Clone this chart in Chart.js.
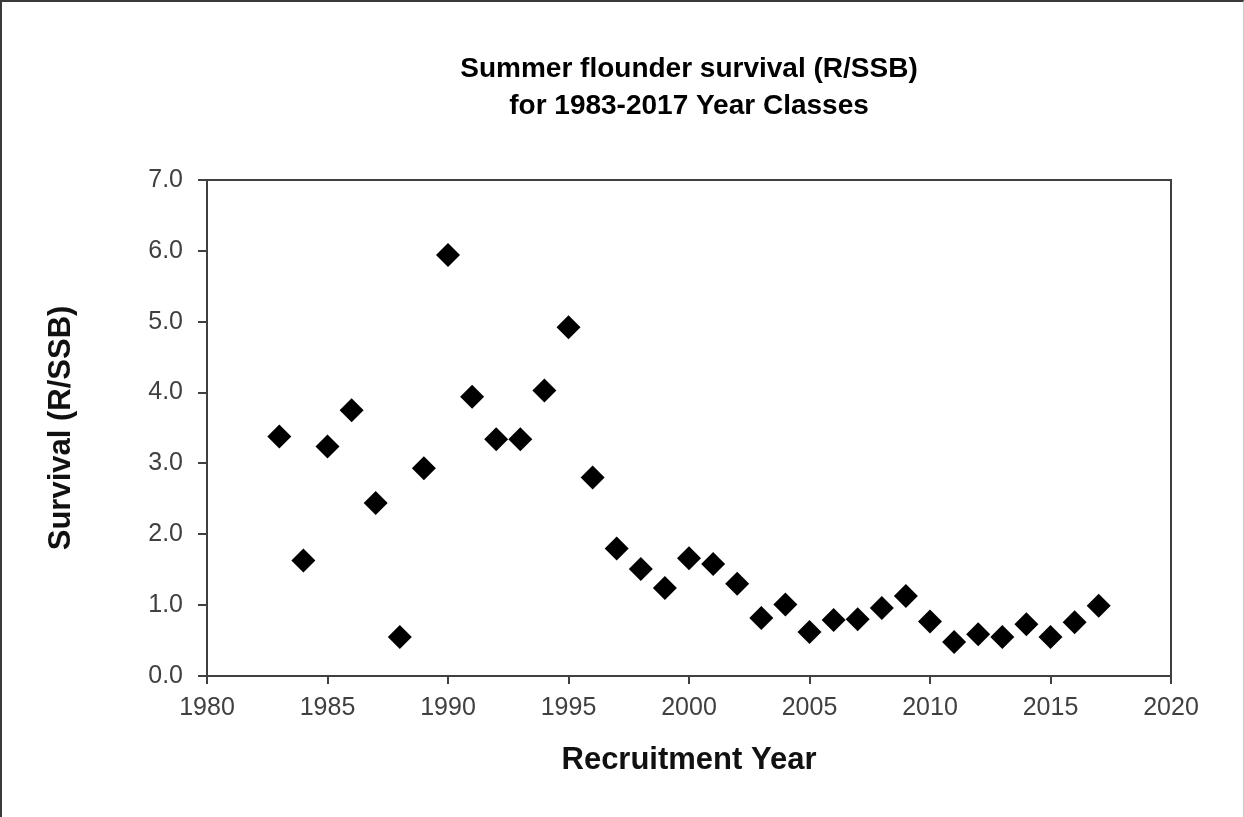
<!DOCTYPE html>
<html>
<head>
<meta charset="utf-8">
<script src="https://cdn.jsdelivr.net/npm/chart.js@4/dist/chart.umd.min.js"></script>
<style>
html,body{margin:0;padding:0;background:#fff;}
#wrap{position:relative;width:1244px;height:817px;}
#frame{position:absolute;left:0;top:0;right:0;bottom:0;border-top:2px solid #3a3a3a;border-left:2px solid #3a3a3a;border-right:1px solid #c8c8c8;pointer-events:none;}
</style>
</head>
<body>
<div id="wrap">
<canvas id="chart" width="1244" height="817"></canvas>
<div id="frame"></div>
</div>
<script>
const years=[1983,1984,1985,1986,1987,1988,1989,1990,1991,1992,1993,1994,1995,1996,1997,1998,1999,2000,2001,2002,2003,2004,2005,2006,2007,2008,2009,2010,2011,2012,2013,2014,2015,2016,2017];
const survival=[3.38,1.63,3.24,3.75,2.44,0.55,2.93,5.94,3.94,3.34,3.34,4.03,4.92,2.80,1.80,1.51,1.24,1.66,1.58,1.30,0.82,1.01,0.62,0.79,0.80,0.96,1.13,0.77,0.48,0.59,0.55,0.73,0.55,0.76,0.99];

const titleLines=["Summer flounder survival (R/SSB)","for 1983-2017 Year Classes"];
const xTitle="Recruitment Year";
const yTitle="Survival (R/SSB)";

const axisColor="#404040";
const font="'Liberation Sans', Arial, sans-serif";

const points=years.map((y,i)=>({x:y,y:survival[i]}));

// top and right lines of the plot box
const boxPlugin={
id:"box",
afterDraw(chart){
const a=chart.chartArea;
const ctx=chart.ctx;
ctx.save();
ctx.strokeStyle=axisColor;
ctx.lineWidth=2;
ctx.beginPath();
ctx.moveTo(a.left,a.top);
ctx.lineTo(a.right,a.top);
ctx.lineTo(a.right,a.bottom);
ctx.stroke();
ctx.restore();
}
};

new Chart(document.getElementById("chart"),{
type:"scatter",
data:{
datasets:[{
data:points,
pointStyle:"rectRot",
pointRadius:12,
pointHoverRadius:12,
backgroundColor:"#000",
borderColor:"#000",
borderWidth:0
}]
},
options:{
responsive:false,
animation:false,
events:[],
layout:{padding:{left:0,right:73,top:0,bottom:0}},
plugins:{
legend:{display:false},
tooltip:{enabled:false},
title:{
display:true,
text:titleLines,
fullSize:false,
color:"#000",
font:{family:font,size:28,weight:"bold",lineHeight:1.32},
padding:{top:51,bottom:55}
}
},
scales:{
x:{
type:"linear",
min:1980,
max:2020,
afterFit(s){s.height=141;},
ticks:{stepSize:5,color:axisColor,font:{family:font,size:25},padding:9,maxRotation:0,callback:v=>String(v)},
grid:{drawOnChartArea:false,tickLength:8,color:axisColor,lineWidth:2},
border:{color:axisColor,width:2},
title:{display:true,text:xTitle,color:"#111",font:{family:font,size:31,weight:"bold",lineHeight:1.2},padding:{top:0,bottom:38}}
},
y:{
type:"linear",
min:0,
max:7,
afterFit(s){s.width=207;},
ticks:{stepSize:1,color:axisColor,font:{family:font,size:25},padding:15,callback:v=>v.toFixed(1)},
grid:{drawOnChartArea:false,tickLength:9,color:axisColor,lineWidth:2},
border:{color:axisColor,width:2},
title:{display:true,text:yTitle,color:"#111",font:{family:font,size:31,weight:"bold",lineHeight:1.2},padding:{top:43,bottom:0}}
}
}
},
plugins:[boxPlugin]
});
</script>
</body>
</html>
